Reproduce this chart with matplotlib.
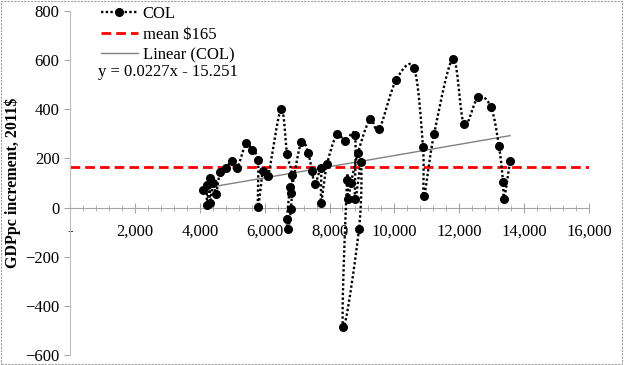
import numpy as np
import matplotlib
matplotlib.use("Agg")
import matplotlib.pyplot as plt
from matplotlib.lines import Line2D
from matplotlib.patches import Rectangle
from matplotlib.ticker import FuncFormatter, MultipleLocator

plt.rcParams['font.family'] = ['Liberation Serif', 'DejaVu Serif']

# GDP per capita level (2011$) and yearly increment, in time order
gdppc = [4100, 4210, 4224, 4316, 4316, 4409, 4501, 4625, 4809, 4994,
         5149, 5426, 5611, 5796, 5796, 5950, 6104, 6505, 6690, 6844,
         6813, 6721, 6690, 6783, 6813, 7122, 7338, 7461, 7553, 7738,
         7738, 7923, 8232, 8478, 8787, 8787, 8972, 8910, 8417, 8540,
         8571, 8663, 8879, 9249, 9526, 10051, 10606, 10883, 10913, 11222,
         11808, 12147, 12579, 12979, 13226, 13349, 13380, 13565]
increment = [73, 90, 12, 122, 20, 98, 57, 143, 163, 188,
             159, 261, 233, 192, 4, 147, 127, 400, 220, 131,
             -4, -86, -45, 82, 61, 265, 224, 147, 94, 159,
             20, 176, 298, 269, 294, 33, 184, -86, -486, 114,
             33, 102, 224, 359, 318, 518, 567, 245, 49, 298,
             604, 339, 449, 408, 249, 106, 33, 188]
mean_val = 165
slope, intercept = 0.0227, -15.251


def smooth(xs, ys, n=20):
    # Excel-like smoothed line (Catmull-Rom through the points)
    p = np.column_stack([xs, ys]).astype(float)
    p = np.vstack([p[0], p, p[-1]])
    out = []
    t = np.linspace(0, 1, n)[:, None]
    for i in range(1, len(p) - 2):
        p0, p1, p2, p3 = p[i - 1], p[i], p[i + 1], p[i + 2]
        c1 = p1 + (p2 - p0) / 6
        c2 = p2 - (p3 - p1) / 6
        seg = ((1 - t) ** 3) * p1 + 3 * ((1 - t) ** 2) * t * c1 + 3 * (1 - t) * t ** 2 * c2 + t ** 3 * p2
        out.append(seg)
    s = np.vstack(out)
    return s[:, 0], s[:, 1]


fig = plt.figure(figsize=(6.25, 3.65), dpi=100)
ax = fig.add_axes([0.112, 0.0274, 0.8304, 0.9425])

sx, sy = smooth(gdppc, increment)
ax.plot(sx, sy, color='black', linestyle=(0, (1, 1)), linewidth=1.7, zorder=3)
ax.plot(gdppc, increment, 'o', color='black', markersize=5.5, zorder=4)
ax.plot([0, 16000], [mean_val, mean_val], color='#ff0000', linestyle=(0, (3.5, 1.8)),
        linewidth=2, zorder=2)
tx = np.array([min(gdppc), max(gdppc)])
ax.plot(tx, slope * tx + intercept, color='#808080', linewidth=1, zorder=2)

ax.set_xlim(0, 16000)
ax.set_ylim(-600, 800)
ax.xaxis.set_major_locator(MultipleLocator(2000))
ax.xaxis.set_minor_locator(MultipleLocator(400))
ax.yaxis.set_major_locator(MultipleLocator(200))
ax.xaxis.set_major_formatter(FuncFormatter(lambda v, p: '-' if v == 0 else f'{int(v):,}'))

for s in ['top', 'right']:
    ax.spines[s].set_visible(False)
ax.spines['bottom'].set_position(('data', 0))
ax.spines['bottom'].set_color('#a6a6a6')
ax.spines['left'].set_color('#c0c0c0')
ax.spines['left'].set_linestyle((0, (2, 1)))
ax.tick_params(axis='x', which='major', direction='inout', length=7, color='#a6a6a6',
               labelsize=12, pad=8)
ax.tick_params(axis='x', which='minor', direction='inout', length=5, color='#a6a6a6')
ax.tick_params(axis='y', which='major', direction='out', length=4, color='#a6a6a6',
               labelsize=12)
ax.set_ylabel('GDPpc increment, 2011$', fontsize=11.5, fontweight='bold', labelpad=3)
ax.set_facecolor('none')

handles = [Line2D([], [], color='black', linestyle=(0, (1, 1)), linewidth=1.7,
                  marker='o', markersize=5.5),
           Line2D([], [], color='#ff0000', linestyle=(0, (3.5, 1.8)), linewidth=2),
           Line2D([], [], color='#808080', linewidth=1)]
fig.legend(handles, ['COL', 'mean $165', 'Linear (COL)'], loc='upper left',
           bbox_to_anchor=(101 / 625, 1 - 6 / 365), frameon=False, fontsize=12,
           handlelength=2.2, handletextpad=0.3, labelspacing=0.28, borderpad=0,
           borderaxespad=0, numpoints=1)
fig.text(98 / 625, 1 - 72 / 365, 'y = 0.0227x - 15.251', fontsize=12,
         ha='left', va='center')

fig.patches.append(Rectangle((0.002, 0.003), 0.993, 0.994, transform=fig.transFigure,
                             fill=False, edgecolor='#a0a0a0', linestyle=(0, (2, 1)),
                             linewidth=0.8))

fig.savefig('out.png', dpi=100)
